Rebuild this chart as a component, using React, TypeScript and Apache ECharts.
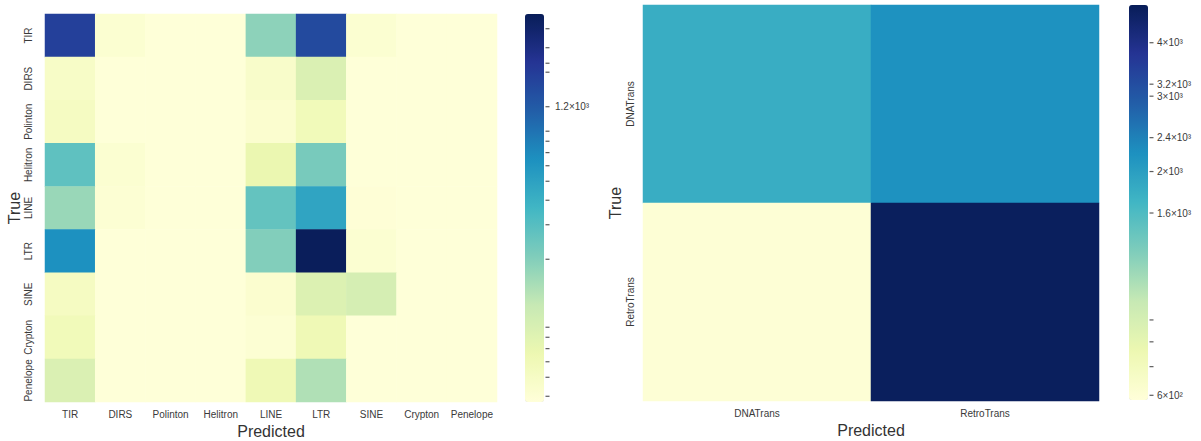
import React, { useEffect, useRef } from "react";
import * as echarts from "echarts";

// ---------- data ----------
const classes9 = ["TIR", "DIRS", "Polinton", "Helitron", "LINE", "LTR", "SINE", "Crypton", "Penelope"];
// rows = True label, columns = Predicted label
const matrixTIR = [1720, 42, 38, 38, 185, 1500, 42, 38, 38];
const matrixDIRS = [48, 38, 38, 38, 46, 88, 38, 38, 38];
const matrixPolinton = [52, 38, 38, 38, 43, 58, 38, 38, 38];
const matrixHelitron = [278, 42, 38, 38, 68, 221, 38, 38, 38];
const matrixLINE = [168, 41, 38, 38, 265, 480, 39, 38, 38];
const matrixLTR = [645, 38, 38, 38, 202, 3450, 42, 38, 38];
const matrixSINE = [52, 38, 38, 38, 43, 85, 95, 38, 38];
const matrixCrypton = [58, 38, 38, 38, 41, 62, 38, 38, 38];
const matrixPenelope = [88, 38, 38, 38, 62, 140, 38, 38, 38];
const leftRows = [matrixTIR, matrixDIRS, matrixPolinton, matrixHelitron, matrixLINE, matrixLTR, matrixSINE, matrixCrypton, matrixPenelope];
const leftRange = [37.4, 3566];
const leftTicks = [40, 50, 60, 70, 80, 90, 200, 300, 400, 500, 600, 700, 800, 900, 1200, 1800, 2000, 2400, 3000];
const leftTickLabels: Record<number, string> = { 1200: "1.2×10³" };

const classes2 = ["DNATrans", "RetroTrans"];
const matrixDNATrans = [1800, 2200];
const matrixRetroTrans = [600, 4800];
const rightRows = [matrixDNATrans, matrixRetroTrans];
const rightRange = [585, 4900];
const rightTicks = [600, 700, 800, 900, 1600, 2000, 2400, 3000, 3200, 4000];
const rightTickLabels: Record<number, string> = {
  600: "6×10²",
  1600: "1.6×10³",
  2000: "2×10³",
  2400: "2.4×10³",
  3000: "3×10³",
  3200: "3.2×10³",
  4000: "4×10³",
};

const YLGNBU = ["#ffffd9", "#edf8b1", "#c7e9b4", "#7fcdbb", "#41b6c4", "#1d91c0", "#225ea8", "#253494", "#081d58"];

const lg = (v: number) => Math.log10(v);

function toCells(rows: number[][]) {
  const out: [number, number, number][] = [];
  rows.forEach((row, r) => row.forEach((v, c) => out.push([c, r, lg(v)])));
  return out;
}

function labelFor(map: Record<number, string>) {
  return (val: number) => {
    for (const k of Object.keys(map)) {
      if (Math.abs(lg(Number(k)) - val) < 1e-6) return map[Number(k)];
    }
    return "";
  };
}

const FONT = "'Liberation Sans', Arial, sans-serif";
const TICK_COLOR = "#3a3a3a";

export default function App() {
  const ref = useRef<HTMLDivElement>(null);
  useEffect(() => {
    document.body.style.margin = "0";
    if (!ref.current) return;
    const chart = echarts.init(ref.current, undefined, { renderer: "svg" });

    const L = { left: 45, top: 14, width: 452, height: 388 };
    const R = { left: 643, top: 5, width: 456, height: 396 };
    const LC = { left: 525, top: 14, width: 19, height: 388 };
    const RC = { left: 1129, top: 5, width: 19, height: 395 };

    const catAxisCommon = {
      type: "category" as const,
      axisLine: { show: false },
      axisTick: { show: false },
      splitLine: { show: false },
      nameTextStyle: { fontSize: 16, color: "#333", fontFamily: FONT },
    };

    const barAxis = (range: number[], labels: Record<number, string>, gridIndex: number, margin: number) => ({
      type: "value",
      gridIndex,
      position: "right",
      min: lg(range[0]),
      max: lg(range[1]),
      axisLine: { show: false },
      splitLine: { show: false },
      axisTick: { show: false },
      axisLabel: {
        show: true,
        customValues: Object.keys(labels).map((k) => lg(Number(k))),
        formatter: labelFor(labels),
        fontSize: 10,
        color: TICK_COLOR,
        margin,
        fontFamily: FONT,
      },
    });

    const tickSeries = (ticks: number[], axisIndex: number) => ({
      type: "scatter",
      xAxisIndex: axisIndex,
      yAxisIndex: axisIndex,
      data: ticks.map((t) => [1, lg(t)]),
      symbol: "rect",
      symbolSize: [4, 1.2],
      symbolOffset: [3.5, 0],
      itemStyle: { color: "#333" },
      silent: true,
      clip: false,
      emphasis: { disabled: true },
    });

    const option: any = {
      animation: false,
      backgroundColor: "#ffffff",
      textStyle: { fontFamily: FONT },
      grid: [
        { ...L, outerBoundsMode: "none" },
        { ...R, outerBoundsMode: "none" },
        { ...LC, outerBoundsMode: "none" },
        { ...RC, outerBoundsMode: "none" },
      ],
      xAxis: [
        {
          ...catAxisCommon,
          gridIndex: 0,
          data: classes9,
          name: "Predicted",
          nameLocation: "middle",
          nameGap: 19,
          axisLabel: { fontSize: 10, color: TICK_COLOR, margin: 7, interval: 0, fontFamily: FONT },
        },
        {
          ...catAxisCommon,
          gridIndex: 1,
          data: classes2,
          name: "Predicted",
          nameLocation: "middle",
          nameGap: 19,
          axisLabel: { fontSize: 10, color: TICK_COLOR, margin: 7, interval: 0, fontFamily: FONT },
        },
        { type: "value", gridIndex: 2, show: false, min: 0, max: 1 },
        { type: "value", gridIndex: 3, show: false, min: 0, max: 1 },
      ],
      yAxis: [
        {
          ...catAxisCommon,
          gridIndex: 0,
          data: classes9,
          inverse: true,
          name: "True",
          nameLocation: "middle",
          nameGap: 22,
          axisLabel: { fontSize: 10, color: TICK_COLOR, rotate: 90, margin: 12, interval: 0, fontFamily: FONT },
        },
        {
          ...catAxisCommon,
          gridIndex: 1,
          data: classes2,
          inverse: true,
          name: "True",
          nameLocation: "middle",
          nameGap: 20,
          axisLabel: { fontSize: 10, color: TICK_COLOR, rotate: 90, margin: 8, interval: 0, fontFamily: FONT },
        },
        barAxis(leftRange, leftTickLabels, 2, 11),
        barAxis(rightRange, rightTickLabels, 3, 9),
      ],
      visualMap: [
        {
          type: "continuous",
          seriesIndex: 0,
          dimension: 2,
          min: lg(leftRange[0]),
          max: lg(leftRange[1]),
          inRange: { color: YLGNBU },
          orient: "vertical",
          left: LC.left,
          top: LC.top,
          itemWidth: LC.width,
          itemHeight: LC.height,
          padding: 0,
          calculable: false,
          hoverLink: false,
        },
        {
          type: "continuous",
          seriesIndex: 1,
          dimension: 2,
          min: lg(rightRange[0]),
          max: lg(rightRange[1]),
          inRange: { color: YLGNBU },
          orient: "vertical",
          left: RC.left,
          top: RC.top,
          itemWidth: RC.width,
          itemHeight: RC.height,
          padding: 0,
          calculable: false,
          hoverLink: false,
        },
      ],
      series: [
        {
          type: "heatmap",
          xAxisIndex: 0,
          yAxisIndex: 0,
          data: toCells(leftRows),
          itemStyle: { borderWidth: 0 },
          emphasis: { disabled: true },
          progressive: 0,
        },
        {
          type: "heatmap",
          xAxisIndex: 1,
          yAxisIndex: 1,
          data: toCells(rightRows),
          itemStyle: { borderWidth: 0 },
          emphasis: { disabled: true },
          progressive: 0,
        },
        tickSeries(leftTicks, 2),
        tickSeries(rightTicks, 3),
      ],
    };
    chart.setOption(option);
    return () => chart.dispose();
  }, []);
  return <div ref={ref} style={{ width: 1201, height: 441 }} />;
}
